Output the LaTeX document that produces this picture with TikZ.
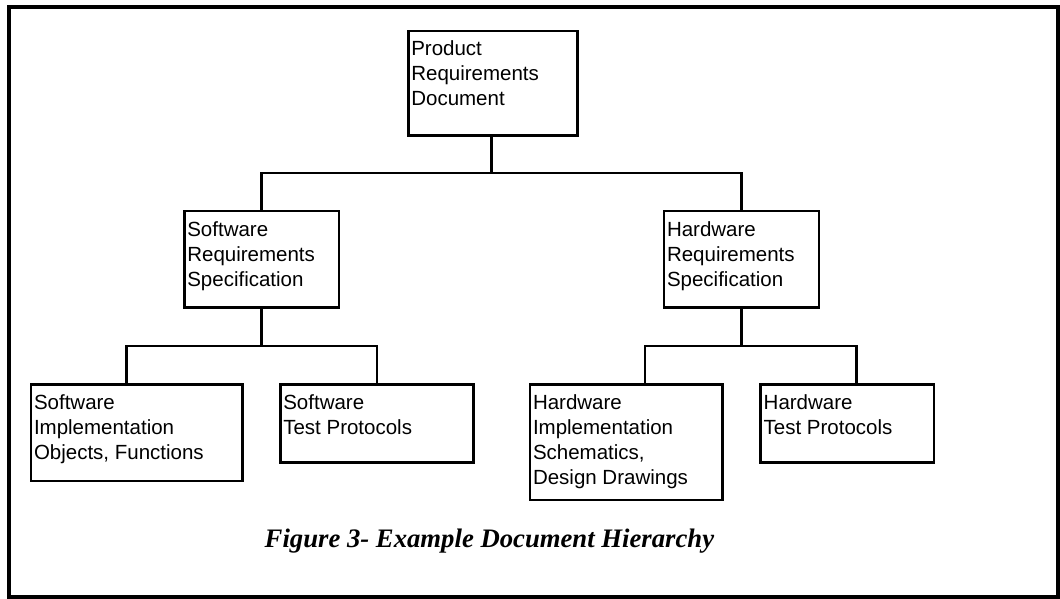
\documentclass[tikz,border=0pt]{standalone}
\usepackage{fontspec}
\setmainfont{Liberation Serif}
\newfontfamily\arialfont{Liberation Sans}
\newcommand{\boxlines}[1]{\begin{tabular}[t]{@{}l@{}}#1\end{tabular}}
\begin{document}
\begin{tikzpicture}[x=1pt,y=-1pt,
  docbox/.style={draw=black, line width=2.6pt, rectangle, inner sep=0pt, outer sep=0pt, anchor=north west},
  boxtxt/.style={anchor=base west, inner sep=0pt, outer sep=0pt, font=\arialfont\fontsize{20.5}{25}\selectfont},
  link/.style={draw=black, line width=2.6pt, line cap=rect},
  frame/.style={draw=black, line width=4.2pt},
  caption/.style={anchor=base west, inner sep=0pt, font=\fontsize{26.7}{30}\selectfont\bfseries\itshape}]
\useasboundingbox (0,0) rectangle (1060,599);
\draw[frame] (9,7) rectangle (1058.5,597.5);

% boxes
\node[docbox, minimum width=169.4pt, minimum height=104.7pt] (prd) at (408.3,31) {};
\node[docbox, minimum width=154.8pt, minimum height=96.3pt] (srs) at (184.3,211) {};
\node[docbox, minimum width=155pt, minimum height=96.3pt] (hrs) at (664,211) {};
\node[docbox, minimum width=211.3pt, minimum height=96.7pt] (swi) at (31,384.3) {};
\node[docbox, minimum width=193pt, minimum height=78pt] (swt) at (280.3,384.3) {};
\node[docbox, minimum width=192.7pt, minimum height=115.7pt] (hwi) at (530,384.3) {};
\node[docbox, minimum width=173.3pt, minimum height=78pt] (hwt) at (760.7,384.3) {};

% texts
\node[boxtxt] (tprd) at ([xshift=3pt,yshift=-25pt]prd.north west) {\boxlines{Product\\Requirements\\Document}};
\node[boxtxt] (tsrs) at ([xshift=3pt,yshift=-25pt]srs.north west) {\boxlines{Software\\Requirements\\Specification}};
\node[boxtxt] (thrs) at ([xshift=3pt,yshift=-25pt]hrs.north west) {\boxlines{Hardware\\Requirements\\Specification}};
\node[boxtxt] (tswi) at ([xshift=3pt,yshift=-25pt]swi.north west) {\boxlines{Software\\Implementation\\Objects, Functions}};
\node[boxtxt] (tswt) at ([xshift=3pt,yshift=-25pt]swt.north west) {\boxlines{Software\\Test Protocols}};
\node[boxtxt] (thwi) at ([xshift=3pt,yshift=-25pt]hwi.north west) {\boxlines{Hardware\\Implementation\\Schematics,\\Design Drawings}};
\node[boxtxt] (thwt) at ([xshift=3pt,yshift=-25pt]hwt.north west) {\boxlines{Hardware\\Test Protocols}};

% junction coordinates
\coordinate (j0) at (491.7,173);
\coordinate (a1) at (126.7,346);
\coordinate (b1) at (645,346);
\coordinate (b2) at (856.7,346);

% connectors
\draw[link] (prd.south -| j0) -- (j0);
\draw[link] (srs.north) -- (srs.north |- j0) -- (hrs.north |- j0) -- (hrs.north);
\draw[link] (srs.south) -- (srs.south |- a1);
\draw[link] (swi.north -| a1) -- (a1) -- (a1 -| swt.north) -- (swt.north);
\draw[link] (hrs.south) -- (hrs.south |- b1);
\draw[link] (hwi.north -| b1) -- (b1) -- (b2) -- (hwt.north -| b2);

% caption
\node[caption] (cap) at (264.5,547.3) {Figure 3- Example Document Hierarchy};
\end{tikzpicture}
\end{document}
